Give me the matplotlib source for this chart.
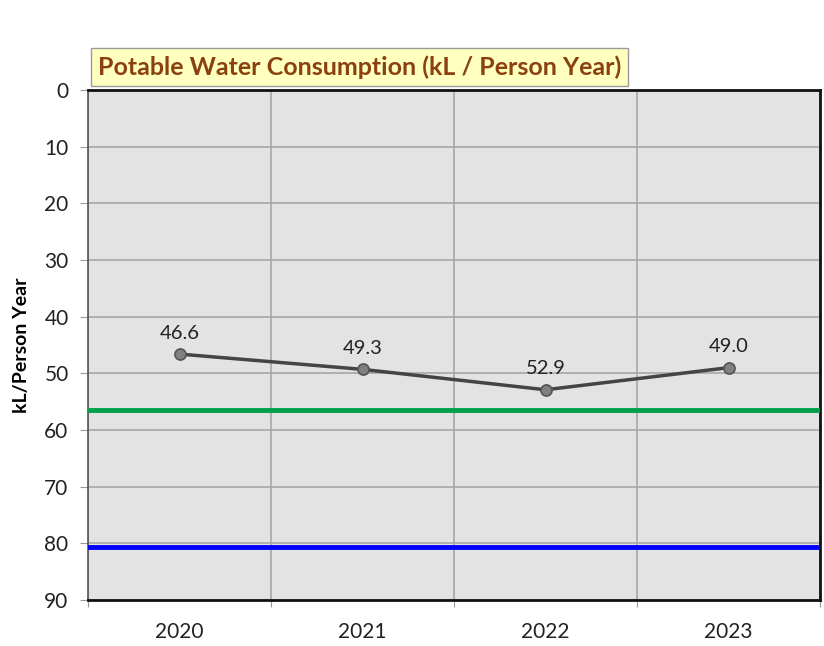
import matplotlib
matplotlib.use("Agg")
from matplotlib import pyplot as plt

# data
years = ["2020", "2021", "2022", "2023"]
consumption = [46.6, 49.3, 52.9, 49.0]
green_level = 56.4
blue_level = 80.6
yticks = [0, 10, 20, 30, 40, 50, 60, 70, 80, 90]

plt.rcParams['font.family'] = ['Lato', 'DejaVu Sans']

fig = plt.figure(figsize=(8.24, 6.46), dpi=100)
ax = fig.add_axes([88/824, 46/646, 732/824, 510/646])
ax.set_facecolor("#e3e3e3")

x = [i + 0.5 for i in range(len(years))]
ax.set_xlim(0, len(years))
ax.set_ylim(90, 0)

# grid
ax.set_yticks(yticks)
ax.set_xticks(range(len(years) + 1))
ax.set_xticklabels([])
ax.set_xticks(x, minor=True)
ax.set_xticklabels(years, minor=True, fontsize=15, color="#222222")
ax.tick_params(axis="x", which="minor", length=0, pad=16)
ax.tick_params(axis="x", which="major", length=5, color="#999999", direction="out")
ax.tick_params(axis="y", length=6, color="#999999", labelsize=15, labelcolor="#222222", pad=8)
ax.grid(True, which="major", color="#a6a6a6", linewidth=1.2)
ax.set_axisbelow(True)

for s in ["top", "right", "bottom"]:
    ax.spines[s].set_color("#111111")
    ax.spines[s].set_linewidth(2)
ax.spines["left"].set_color("#555555")
ax.spines["left"].set_linewidth(1.2)

ax.axhline(green_level, color="#00a04a", linewidth=3.5, zorder=3)
ax.axhline(blue_level, color="#0000ff", linewidth=3.5, zorder=3)

ax.plot(x, consumption, color="#444444", linewidth=2.5, marker="o", markersize=8,
        markerfacecolor="#808080", markeredgecolor="#555555", markeredgewidth=1.2, zorder=4)
for xi, v in zip(x, consumption):
    ax.annotate(f"{v:.1f}", (xi, v), xytext=(0, 9), textcoords="offset points",
                ha="center", va="bottom", fontsize=14.5, color="#222222")

ax.set_ylabel("kL/Person Year", fontsize=14, fontweight="bold", labelpad=10)

fig.text(98/824, 1 - 67/646, "Potable Water Consumption (kL / Person Year)",
         fontsize=18, fontweight="bold", color="#8b4010", va="center", ha="left",
         bbox=dict(boxstyle="square,pad=0.28", facecolor="#ffffc0", edgecolor="#999999", linewidth=1))

fig.savefig("out.png", dpi=100)
